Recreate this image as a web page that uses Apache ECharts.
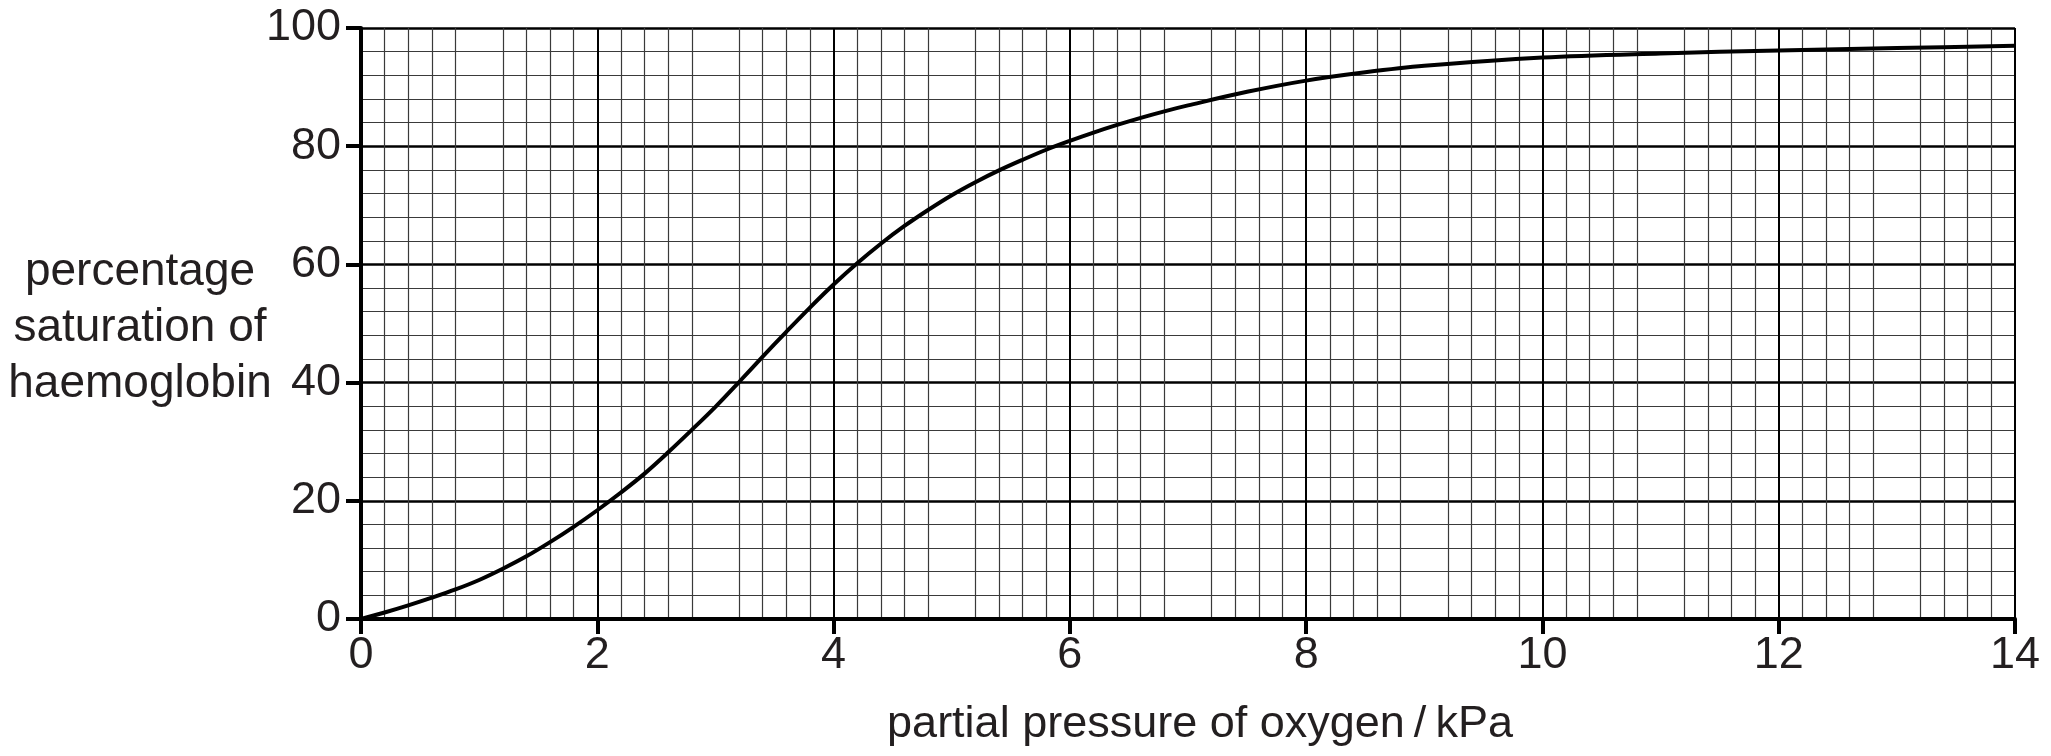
<!DOCTYPE html>
<html>
<head>
<meta charset="utf-8">
<title>oxygen dissociation curve</title>
<script src="https://cdn.jsdelivr.net/npm/echarts@6.0.0/dist/echarts.min.js"></script>
<style>
  html, body { margin: 0; padding: 0; background: #fff; }
  #chart { width: 2051px; height: 756px; }
</style>
</head>
<body>
<div id="chart"></div>
<script>
// partial pressure of oxygen / kPa
var pressure = [0, 0.2, 0.4, 0.6, 0.8, 1.0, 1.2, 1.4, 1.6, 1.8, 2.0, 2.2, 2.4, 2.6, 2.8,
  3.0, 3.2, 3.4, 3.6, 3.8, 4.0, 4.2, 4.4, 4.6, 4.8, 5.0, 5.2, 5.4, 5.6, 5.8, 6.0,
  6.2, 6.4, 6.6, 6.8, 7.0, 7.5, 8.0, 8.5, 9.0, 10, 11, 12, 13, 14];
// percentage saturation of haemoglobin
var saturation = [0, 1.1, 2.3, 3.6, 5.0, 6.6, 8.5, 10.6, 13.0, 15.6, 18.4, 21.4, 24.6, 28.2, 32.0,
  35.9, 40.1, 44.4, 48.6, 52.7, 56.6, 60.2, 63.5, 66.5, 69.2, 71.7, 73.9, 75.9, 77.7, 79.4, 80.9,
  82.3, 83.6, 84.8, 85.9, 86.9, 89.2, 91.1, 92.5, 93.6, 95.0, 95.7, 96.2, 96.6, 97.0];
// labelled ticks
var xTicks = [0, 2, 4, 6, 8, 10, 12, 14];
var yTicks = [0, 20, 40, 60, 80, 100];

var ink = '#231f20';
var font = 'Liberation Sans, Arial, Helvetica, sans-serif';

var chart = echarts.init(document.getElementById('chart'), null, { renderer: 'canvas' });

chart.setOption({
  backgroundColor: '#fff',
  animation: false,
  grid: { left: 361, right: 36, top: 28, bottom: 137 },
  xAxis: {
    type: 'value',
    min: 0,
    max: 14,
    interval: 1,
    axisLine: { onZero: false, lineStyle: { color: '#000', width: 4 } },
    axisTick: { show: true, customValues: xTicks, length: 15, lineStyle: { color: '#000', width: 4 } },
    axisLabel: {
      customValues: xTicks,
      margin: 14,
      fontSize: 45,
      fontFamily: font,
      color: ink
    },
    splitLine: { show: true, lineStyle: { color: '#000', width: 2 } },
    minorTick: { show: false, splitNumber: 5 },
    minorSplitLine: { show: true, lineStyle: { color: '#3a3a3a', width: 1.2 } }
  },
  yAxis: {
    type: 'value',
    min: 0,
    max: 100,
    interval: 20,
    axisLine: { show: true, onZero: false, lineStyle: { color: '#000', width: 4 } },
    axisTick: { show: true, customValues: yTicks, length: 15, lineStyle: { color: '#000', width: 4 } },
    axisLabel: {
      customValues: yTicks,
      margin: 20,
      fontSize: 45,
      fontFamily: font,
      color: ink
    },
    splitLine: { show: true, lineStyle: { color: '#000', width: 2.5 } },
    minorTick: { show: false, splitNumber: 5 },
    minorSplitLine: { show: true, lineStyle: { color: '#3a3a3a', width: 1.2 } }
  },
  graphic: [
    {
      type: 'text',
      x: 140,
      y: 328,
      style: {
        text: 'percentage\nsaturation of\nhaemoglobin',
        align: 'center',
        verticalAlign: 'middle',
        lineHeight: 56,
        fontSize: 46,
        fontFamily: font,
        fill: ink
      }
    },
    {
      type: 'text',
      x: 1200,
      y: 725,
      style: {
        text: 'partial pressure of oxygen\u2009/\u2009kPa',
        align: 'center',
        verticalAlign: 'middle',
        fontSize: 45,
        fontFamily: font,
        fill: ink
      }
    }
  ],
  series: [
    {
      type: 'line',
      data: pressure.map(function (p, i) { return [p, saturation[i]]; }),
      smooth: 0.35,
      showSymbol: false,
      lineStyle: { color: '#000', width: 4 },
      z: 5
    }
  ]
});
</script>
</body>
</html>
